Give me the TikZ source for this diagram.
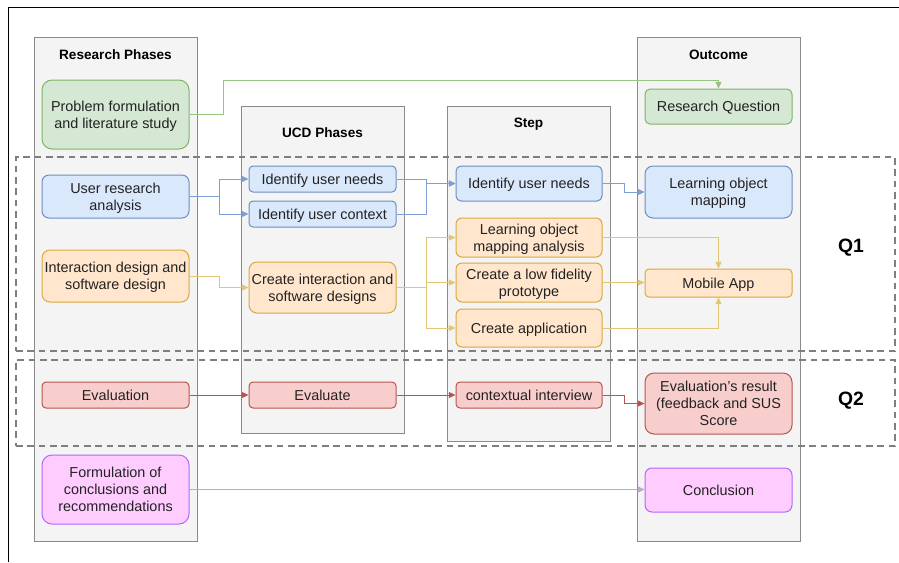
\documentclass[tikz,border=0pt]{standalone}
\usepackage{fontspec}
\setmainfont{Liberation Sans}
\usetikzlibrary{arrows.meta}
\definecolor{gfill}{HTML}{D5E8D4}\definecolor{gline}{HTML}{82B366}
\definecolor{bfill}{HTML}{DAE8FC}\definecolor{bline}{HTML}{6C8EBF}
\definecolor{ofill}{HTML}{FFE6CC}\definecolor{oline}{HTML}{D9A93A}
\definecolor{rfill}{HTML}{F8CECC}\definecolor{rline}{HTML}{B85450}
\definecolor{pfill}{HTML}{FFCCFF}\definecolor{pline}{HTML}{B266FF}
\definecolor{cfill}{HTML}{F4F4F4}\definecolor{cline}{HTML}{8A8A8A}
\definecolor{gedge}{HTML}{97C47F}\definecolor{bedge}{HTML}{7E9FD4}
\definecolor{oedge}{HTML}{E2C675}\definecolor{redge}{HTML}{B85450}
\definecolor{pedge}{HTML}{C4A2D4}\definecolor{txt}{HTML}{222222}
\definecolor{dashc}{HTML}{7F7F7F}
\newcommand\mkbox[7]{\node[#2, minimum width={(#5-#3)*0.75pt}, minimum height={(#6-#4)*0.75pt}] (#1) at ({(#3+#5)/2},{(#4+#6)/2}) {\raisebox{-1.3pt}[\height][\depth]{\begin{tabular}{@{}c@{}}#7\end{tabular}}};}
\tikzset{
  base/.style={inner sep=0pt, line width=0.75pt, text=txt, font=\fontsize{10.8}{12.7}\selectfont},
  gbox/.style={base, fill=gfill, draw=gline},
  bbox/.style={base, fill=bfill, draw=bline},
  obox/.style={base, fill=ofill, draw=oline},
  rbox/.style={base, fill=rfill, draw=rline},
  pbox/.style={base, fill=pfill, draw=pline},
  colbox/.style={inner sep=0pt, fill=cfill, draw=cline, line width=0.75pt},
  dashbox/.style={inner sep=0pt, draw=dashc, line width=1.5pt, dash pattern=on 5pt off 3.5pt},
  title/.style={font=\bfseries\fontsize{10.2}{12}\selectfont, inner sep=0pt},
  qlabel/.style={font=\bfseries\fontsize{14.5}{16}\selectfont, inner sep=0pt},
  edge/.style={line width=0.75pt, -{Triangle[length=5pt,width=4.5pt]}},
  ge/.style={edge, draw=gedge},
  be/.style={edge, draw=bedge},
  oe/.style={edge, draw=oedge},
  re/.style={edge, draw=redge},
  pe/.style={edge, draw=pedge},
}
\begin{document}
\begin{tikzpicture}[x=0.75pt, y=-0.75pt]
\useasboundingbox (0,0) rectangle (899,562);
% frame
\coordinate (f1) at (8,562); \coordinate (f2) at (8,7); \coordinate (f3) at (899,7);
\draw[line width=0.75pt, black] (f1) -- (f2) -- (f3);
% columns
\mkbox{colRP}{colbox}{34}{37}{197}{541}{}
\mkbox{colUCD}{colbox}{241}{106}{404}{433}{}
\mkbox{colST}{colbox}{447}{106}{610}{441}{}
\mkbox{colOC}{colbox}{637}{37}{800}{541}{}
\node[title] (tRP) at (115.5,54.5) {Research Phases};
\node[title] (tUCD) at (322.5,132.5) {UCD Phases};
\node[title] (tST) at (528.5,124.5) {Step};
\node[title] (tOC) at (718.5,54.5) {Outcome};
% dashed groups
\mkbox{q1box}{dashbox}{16}{157}{895}{351}{}
\mkbox{q2box}{dashbox}{16}{360}{895}{446}{}
\node[qlabel] (q1) at (851,248) {Q1};
\node[qlabel] (q2) at (851,401) {Q2};
% boxes
\mkbox{pf}{gbox,rounded corners=7.5pt}{42}{80}{189}{149}{Problem formulation\\and literature study}
\mkbox{ura}{bbox,rounded corners=5.25pt}{42}{175}{189}{218}{User research\\analysis}
\mkbox{ida}{obox,rounded corners=6pt}{42}{250}{189}{302}{Interaction design and\\software design}
\mkbox{ev}{rbox,rounded corners=3pt}{42}{382}{189}{408}{Evaluation}
\mkbox{fc}{pbox,rounded corners=7.5pt}{42}{455}{189}{524}{Formulation of\\conclusions and\\recommendations}
\mkbox{un}{bbox,rounded corners=3pt}{249}{166}{396}{192}{Identify user needs}
\mkbox{uc}{bbox,rounded corners=3pt}{249}{201}{396}{227}{Identify user context}
\mkbox{cia}{obox,rounded corners=6pt}{249}{262}{396}{313}{Create interaction and\\software designs}
\mkbox{evt}{rbox,rounded corners=3pt}{249}{382}{396}{408}{Evaluate}
\mkbox{sn}{bbox,rounded corners=3.75pt}{456}{166}{602}{201}{Identify user needs}
\mkbox{loma}{obox,rounded corners=4.5pt}{456}{218}{602}{257}{Learning object\\mapping analysis}
\mkbox{lowfi}{obox,rounded corners=4.5pt}{456}{263}{602}{302}{Create a low fidelity\\prototype}
\mkbox{capp}{obox,rounded corners=4.5pt}{456}{309}{602}{347}{Create application}
\mkbox{ci}{rbox,rounded corners=3pt}{456}{382}{602}{408}{contextual interview}
\mkbox{rq}{gbox,rounded corners=3.75pt}{645}{89}{792}{124}{Research Question}
\mkbox{lom}{bbox,rounded corners=6pt}{645}{166}{792}{218}{Learning object\\mapping}
\mkbox{app}{obox,rounded corners=3pt}{645}{269}{792}{297}{Mobile App}
\mkbox{er}{rbox,rounded corners=6.75pt}{645}{373}{792}{434}{Evaluation's result\\(feedback and SUS\\Score}
\mkbox{con}{pbox,rounded corners=5.25pt}{645}{468}{792}{512}{Conclusion}
% connectors
\coordinate (g1) at (223,80);
\draw[ge] (pf.east) -- (pf.east -| g1) -- (g1) -| (rq.north);
\draw[be] (ura.east) -- ++(30,0) |- (un.west);
\draw[be] (ura.east) -- ++(30,0) |- (uc.west);
\draw[be] (un.east) -- ++(30,0) |- (sn.west);
\draw[be] (uc.east) -- ++(30,0) |- (sn.west);
\draw[be] (sn.east) -- ++(22,0) |- (lom.west);
\draw[oe] (ida.east) -- ++(30,0) |- (cia.west);
\draw[oe] (cia.east) -- ++(30,0) |- (loma.west);
\draw[oe] (cia.east) -- ++(30,0) |- (lowfi.west);
\draw[oe] (cia.east) -- ++(30,0) |- (capp.west);
\draw[oe] (loma.east) -| (app.north);
\draw[oe] (lowfi.east) -- (lowfi.east -| app.west);
\draw[oe] (capp.east) -| (app.south);
\draw[re] (ev.east) -- (evt.west);
\draw[re] (evt.east) -- (ci.west);
\draw[re] (ci.east) -- ++(22,0) |- (er.west);
\draw[pe] (fc.east) -- (fc.east -| con.west);
\end{tikzpicture}
\end{document}
